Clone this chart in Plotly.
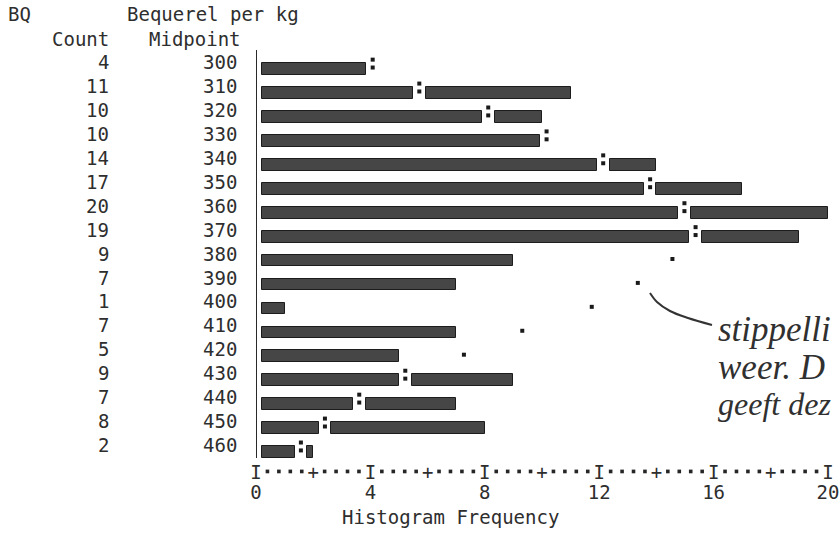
import plotly.graph_objects as go

# Bequerel per kg histogram (SPSS-style line-printer output) with normal curve
midpoints = [300, 310, 320, 330, 340, 350, 360, 370, 380, 390, 400, 410, 420, 430, 440, 450, 460]
counts = [4, 11, 10, 10, 14, 17, 20, 19, 9, 7, 1, 7, 5, 9, 7, 8, 2]
normal_curve = [4.08, 5.71, 8.12, 10.16, 12.14, 13.78, 14.98, 15.37, 14.56,
                13.35, 11.74, 9.31, 7.27, 5.22, 3.61, 2.41, 1.57]
freq_ticks = [0, 4, 8, 12, 16, 20]

MONO = "DejaVu Sans Mono"
INK = "#2e2e2e"
BAR = "#464646"

# plot-area geometry (pixels)
W, H = 839, 536
L, R, T, B = 256, 0, 50, 78
PX_X = 28.6                      # pixels per frequency unit
X_MAX = (W - L - R) / PX_X
Y_TOP, Y_BOT = 292.0, 462.5
PX_Y = (H - T - B) / (Y_BOT - Y_TOP)

CELL = 0.4                       # one printer character = 0.4 frequency units
BAR_START = 0.2
GAP = 0.22


def paper_x(xp):
    return (xp - L) / (W - L - R)


def paper_y(yp):
    return (H - B - yp) / (H - T - B)


# split each bar where the normal-curve marker falls inside it
seg_base, seg_len, seg_y = [], [], []
colon_x, colon_y, dot_x, dot_y = [], [], [], []
for m, c, nc in zip(midpoints, counts, normal_curve):
    inside = nc <= c + CELL
    if nc < c - GAP:
        seg_base += [BAR_START, nc + GAP]
        seg_len += [nc - GAP - BAR_START, c - nc - GAP]
        seg_y += [m, m]
    else:
        end = min(c, nc - GAP) if inside else c
        seg_base.append(BAR_START)
        seg_len.append(end - BAR_START)
        seg_y.append(m)
    dot_x.append(nc)
    dot_y.append(m - 1.6 / PX_Y)
    if inside:
        colon_x.append(nc)
        colon_y.append(m - 9.5 / PX_Y)

fig = go.Figure()
fig.add_trace(go.Bar(
    orientation="h", y=seg_y, x=seg_len, base=seg_base, width=4.9,
    marker=dict(color=BAR, line=dict(color="#1c1c1c", width=1)),
    hoverinfo="skip", showlegend=False,
))
fig.add_trace(go.Scatter(
    x=dot_x + colon_x, y=dot_y + colon_y, mode="markers",
    marker=dict(symbol="square", size=4, color="#1a1a1a"),
    hoverinfo="skip", showlegend=False, cliponaxis=False,
))


# hand-drawn pointer towards the dotted curve
def px(xp, yp):
    return (xp - L) / PX_X, Y_TOP + (yp - T) / PX_Y


hand = [px(650, 293), px(657, 302), px(670, 311), px(688, 318), px(712, 325)]
fig.add_trace(go.Scatter(
    x=[p[0] for p in hand], y=[p[1] for p in hand], mode="lines",
    line=dict(color="#333333", width=2, shape="spline"),
    hoverinfo="skip", showlegend=False, cliponaxis=False,
))

# printer-style frequency scale: I at every 4, + at every 2, dots between
n_cells = int(round(20 / CELL))
scale_vals = [i * CELL for i in range(n_cells + 1)]
scale_text = ["I" if i % 10 == 0 else "+" if i % 5 == 0 else "" for i in range(n_cells + 1)]
scale_dots = [v for i, v in enumerate(scale_vals) if i % 5 != 0]

shapes = [dict(type="line", xref="x", yref="paper", x0=0, x1=0, y0=0, y1=1,
               line=dict(color="#2a2a2a", width=2))]
hw = 1.8 / PX_X
dy0, dy1 = paper_y(473.3), paper_y(469.6)
for v in scale_dots:
    shapes.append(dict(type="rect", xref="x", yref="paper", x0=v - hw, x1=v + hw,
                       y0=dy0, y1=dy1, fillcolor="#262626", line=dict(width=0)))

ann = []
for m, c in zip(midpoints, counts):
    ann.append(dict(x=paper_x(239), xref="paper", y=m, yref="y", yshift=7,
                    text=str(m), xanchor="right", yanchor="middle", showarrow=False))
    ann.append(dict(x=paper_x(111), xref="paper", y=m, yref="y", yshift=7,
                    text=str(c), xanchor="right", yanchor="middle", showarrow=False))

header = [("BQ", 6, 14, "left"), ("Bequerel per kg", 125, 14, "left"),
          ("Count", 111, 39, "right"), ("Midpoint", 147, 39, "left"),
          ("Histogram Frequency", 340, 517, "left")]
for txt, xp, yp, anc in header:
    ann.append(dict(x=paper_x(xp), xref="paper", y=paper_y(yp), yref="paper",
                    text=txt, xanchor=anc, yanchor="middle", showarrow=False))

# handwritten note in the margin (runs off the page edge)
for txt, yp, size in [("<i>stippelli</i>", 329, 35), ("<i>weer. D</i>", 367, 35),
                      ("<i>geeft dez</i>", 404, 32)]:
    ann.append(dict(x=paper_x(716), xref="paper", y=paper_y(yp), yref="paper",
                    text=txt, xanchor="left", yanchor="middle", showarrow=False,
                    font=dict(family="Liberation Serif", size=size, color="#303030")))

fig.update_layout(
    width=W, height=H,
    margin=dict(l=L, r=R, t=T, b=B, pad=0),
    paper_bgcolor="white", plot_bgcolor="white",
    font=dict(family=MONO, size=19, color=INK),
    bargap=0,
    annotations=ann,
    shapes=shapes,
    xaxis=dict(range=[0, X_MAX], showgrid=False, zeroline=False, showline=False,
               tickmode="array", tickvals=scale_vals, ticktext=scale_text,
               ticks="", ticklabelstandoff=1, tickangle=0, ticklabeloverflow="allow",
               tickfont=dict(family=MONO, size=19, color=INK)),
    xaxis2=dict(range=[0, X_MAX], overlaying="x", side="bottom", anchor="y",
                showgrid=False, zeroline=False, showline=False,
                tickmode="array", tickvals=freq_ticks, ticktext=[str(v) for v in freq_ticks],
                ticks="", ticklabelstandoff=21, tickangle=0, ticklabeloverflow="allow",
                tickfont=dict(family=MONO, size=19, color=INK)),
    yaxis=dict(range=[Y_BOT, Y_TOP], showgrid=False, zeroline=False, showline=False,
               showticklabels=False, ticks=""),
)
# invisible trace so the second axis is drawn
fig.add_trace(go.Scatter(x=[0], y=[Y_TOP], xaxis="x2", mode="markers",
                         marker=dict(opacity=0), hoverinfo="skip", showlegend=False))

fig.write_html("out.html")
